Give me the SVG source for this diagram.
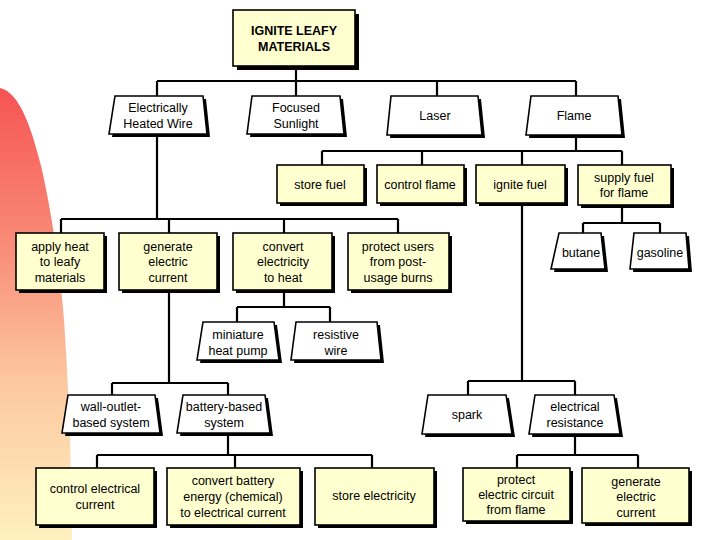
<svg xmlns="http://www.w3.org/2000/svg" width="720" height="540" viewBox="0 0 720 540">
<style>
.box{fill:#ffffd0;stroke:#000;stroke-width:1.6}
.trap{fill:#fff;stroke:#000;stroke-width:1.6}
.sh{fill:#000}
.t{font-family:"Liberation Sans",Arial,sans-serif;font-size:12.5px;text-anchor:middle;fill:#000}
.tb{font-family:"Liberation Sans",Arial,sans-serif;font-size:12.5px;font-weight:bold;text-anchor:middle;fill:#000}
#connectors path{fill:none;stroke:#000;stroke-width:2.2}
</style>
<defs>
<linearGradient id="bg" x1="0" y1="0" x2="0" y2="1">
<stop offset="0" stop-color="#f65454"/>
<stop offset="0.35" stop-color="#f98c78"/>
<stop offset="0.65" stop-color="#fcc8a0"/>
<stop offset="1" stop-color="#fff0c0"/>
</linearGradient>
</defs>
<rect width="720" height="540" fill="#fff"/>
<path d="M0,88 C20,92 32,130 42,170 C52,215 60,270 64,320 C68,380 71,440 72,540 L0,540 Z" fill="url(#bg)"/>
<g id="connectors">
<path d="M296,68 V96 M157,81 H576 M157,81 V96 M437,81 V96 M576,81 V96"/>
<path d="M576,135 V151 M322,151 H622 M322,151 V165 M422,151 V165 M522,151 V165 M622,151 V165"/>
<path d="M157,134 V219 M61,219 H398 M61,219 V233 M169,219 V233 M284,219 V233 M398,219 V233"/>
<path d="M622,205 V223 M583,223 H660 M583,223 V233 M660,223 V233"/>
<path d="M522,203 V381 M468,381 H575 M468,381 V395 M575,381 V395"/>
<path d="M284,290 V307 M237,307 H330 M237,307 V322 M330,307 V322"/>
<path d="M169,290 V383 M112,383 H228 M112,383 V395 M228,383 V395"/>
<path d="M228,433 V455 M97,455 H372 M97,455 V468 M235,455 V468 M372,455 V468"/>
<path d="M575,434 V455 M517,455 H638 M517,455 V468 M638,455 V468"/>
</g>
<g id="n-root"><rect class="sh" x="237" y="14" width="122" height="56"/><rect class="box" x="233" y="10" width="122" height="56" fill="#ffffc4"/><text class="tb" x="294" y="35">IGNITE LEAFY</text><text class="tb" x="294" y="51">MATERIALS</text></g>
<g id="n-wire"><polygon class="sh" points="118,99 206,99 210,137 112,137"/><polygon class="trap" points="115,96 203,96 207,134 109,134"/><text class="t" x="158" y="112">Electrically</text><text class="t" x="158" y="128">Heated Wire</text></g>
<g id="n-sun"><polygon class="sh" points="255,99 343,99 347,137 250,137"/><polygon class="trap" points="252,96 340,96 344,134 247,134"/><text class="t" x="296" y="112">Focused</text><text class="t" x="296" y="128">Sunlight</text></g>
<g id="n-laser"><polygon class="sh" points="394,99 481,99 485,138 390,138"/><polygon class="trap" points="391,96 478,96 482,135 387,135"/><text class="t" x="435" y="120">Laser</text></g>
<g id="n-flame"><polygon class="sh" points="534,99 621,99 625,138 529,138"/><polygon class="trap" points="531,96 618,96 622,135 526,135"/><text class="t" x="574" y="120">Flame</text></g>
<g id="n-store"><rect class="sh" x="280" y="168" width="87" height="38"/><rect class="box" x="277" y="165" width="87" height="38"/><text class="t" x="320" y="189">store fuel</text></g>
<g id="n-control"><rect class="sh" x="380" y="168" width="87" height="38"/><rect class="box" x="377" y="165" width="87" height="38"/><text class="t" x="420" y="189">control flame</text></g>
<g id="n-ignite"><rect class="sh" x="479" y="168" width="89" height="38"/><rect class="box" x="476" y="165" width="89" height="38"/><text class="t" x="520" y="189">ignite fuel</text></g>
<g id="n-supply"><rect class="sh" x="581" y="168" width="93" height="40"/><rect class="box" x="578" y="165" width="93" height="40"/><text class="t" x="624" y="182">supply fuel</text><text class="t" x="624" y="197">for flame</text></g>
<g id="n-apply"><rect class="sh" x="19" y="236" width="88" height="57"/><rect class="box" x="16" y="233" width="88" height="57"/><text class="t" x="60" y="251">apply heat</text><text class="t" x="60" y="266">to leafy</text><text class="t" x="60" y="282">materials</text></g>
<g id="n-gen1"><rect class="sh" x="122" y="236" width="98" height="57"/><rect class="box" x="119" y="233" width="98" height="57"/><text class="t" x="168" y="251">generate</text><text class="t" x="168" y="266">electric</text><text class="t" x="168" y="282">current</text></g>
<g id="n-convert"><rect class="sh" x="236" y="236" width="99" height="57"/><rect class="box" x="233" y="233" width="99" height="57"/><text class="t" x="283" y="251">convert</text><text class="t" x="283" y="266">electricity</text><text class="t" x="283" y="282">to heat</text></g>
<g id="n-protect"><rect class="sh" x="351" y="236" width="101" height="57"/><rect class="box" x="348" y="233" width="101" height="57"/><text class="t" x="398" y="251">protect users</text><text class="t" x="398" y="266">from post-</text><text class="t" x="398" y="282">usage burns</text></g>
<g id="n-butane"><polygon class="sh" points="562,236 604,236 608,272 554,272"/><polygon class="trap" points="559,233 601,233 605,269 551,269"/><text class="t" x="581" y="257">butane</text></g>
<g id="n-gasoline"><polygon class="sh" points="637,236 689,236 692,272 633,272"/><polygon class="trap" points="634,233 686,233 689,269 630,269"/><text class="t" x="660" y="257">gasoline</text></g>
<g id="n-pump"><polygon class="sh" points="206,325 277,325 282,363 200,363"/><polygon class="trap" points="203,322 274,322 279,360 197,360"/><text class="t" x="238" y="339">miniature</text><text class="t" x="238" y="355">heat pump</text></g>
<g id="n-resist"><polygon class="sh" points="299,325 380,325 384,363 294,363"/><polygon class="trap" points="296,322 377,322 381,360 291,360"/><text class="t" x="336" y="339">resistive</text><text class="t" x="336" y="355">wire</text></g>
<g id="n-wall"><polygon class="sh" points="71,398 158,398 163,436 65,436"/><polygon class="trap" points="68,395 155,395 160,433 62,433"/><text class="t" x="111" y="411">wall-outlet-</text><text class="t" x="111" y="427">based system</text></g>
<g id="n-battery"><polygon class="sh" points="186,398 268,398 273,436 180,436"/><polygon class="trap" points="183,395 265,395 270,433 177,433"/><text class="t" x="224" y="411">battery-based</text><text class="t" x="224" y="427">system</text></g>
<g id="n-spark"><polygon class="sh" points="431,398 509,398 515,437 425,437"/><polygon class="trap" points="428,395 506,395 512,434 422,434"/><text class="t" x="467" y="419">spark</text></g>
<g id="n-eres"><polygon class="sh" points="538,398 617,398 623,437 532,437"/><polygon class="trap" points="535,395 614,395 620,434 529,434"/><text class="t" x="575" y="411">electrical</text><text class="t" x="575" y="427">resistance</text></g>
<g id="n-cec"><rect class="sh" x="39" y="471" width="118" height="57"/><rect class="box" x="36" y="468" width="118" height="57"/><text class="t" x="95" y="493">control electrical</text><text class="t" x="95" y="509">current</text></g>
<g id="n-cbe"><rect class="sh" x="170" y="471" width="133" height="57"/><rect class="box" x="167" y="468" width="133" height="57"/><text class="t" x="233" y="485">convert battery</text><text class="t" x="233" y="501">energy (chemical)</text><text class="t" x="233" y="517">to electrical current</text></g>
<g id="n-se"><rect class="sh" x="318" y="471" width="119" height="57"/><rect class="box" x="315" y="468" width="119" height="57"/><text class="t" x="374" y="500">store electricity</text></g>
<g id="n-pec"><rect class="sh" x="466" y="471" width="107" height="53"/><rect class="box" x="463" y="468" width="107" height="53"/><text class="t" x="516" y="484">protect</text><text class="t" x="516" y="499">electric circuit</text><text class="t" x="516" y="514">from flame</text></g>
<g id="n-gen2"><rect class="sh" x="585" y="471" width="107" height="55"/><rect class="box" x="582" y="468" width="107" height="55"/><text class="t" x="636" y="486">generate</text><text class="t" x="636" y="501">electric</text><text class="t" x="636" y="517">current</text></g>
</svg>
